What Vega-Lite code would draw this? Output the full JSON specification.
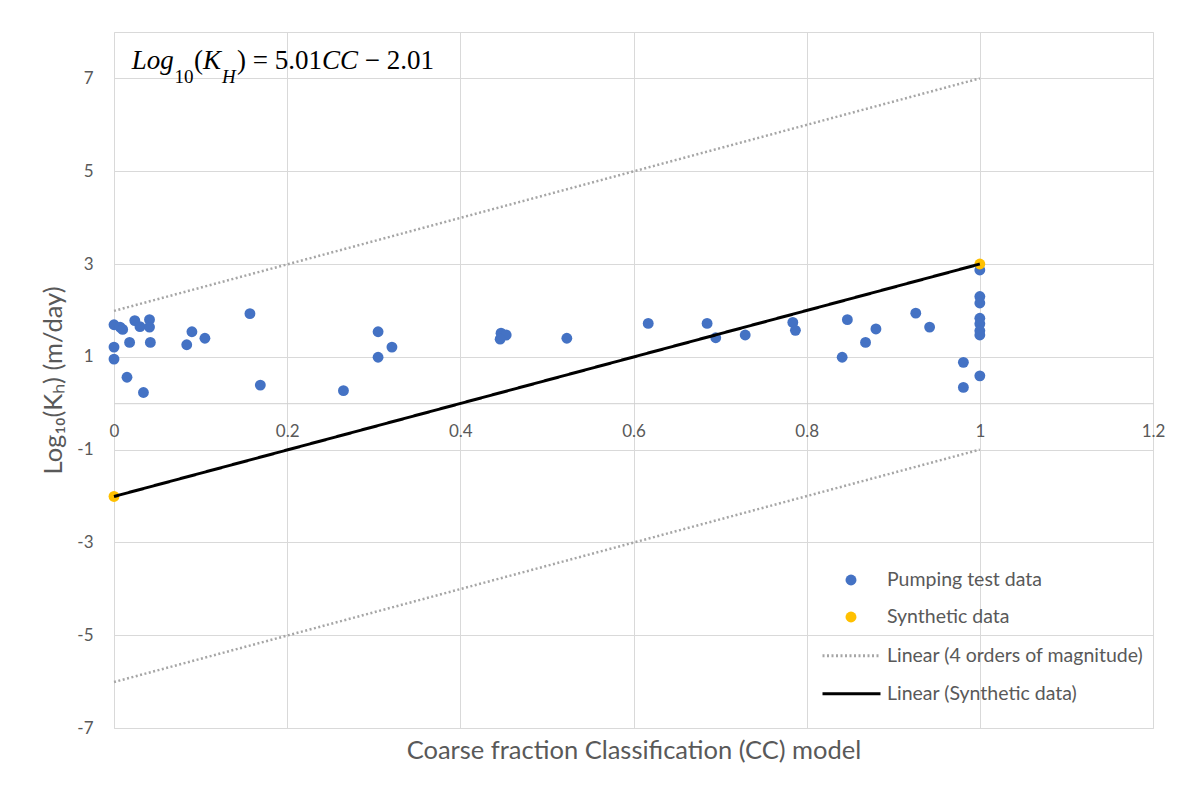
{
  "$schema": "https://vega.github.io/schema/vega-lite/v6.json",
  "width": 1039,
  "height": 696,
  "autosize": {"type": "none"},
  "padding": {"left": 114, "top": 32, "right": 50, "bottom": 61},
  "background": "white",
  "config": {
    "view": {"stroke": "#d9d9d9", "strokeWidth": 1},
    "font": "Lato",
    "axis": {
      "gridColor": "#d9d9d9",
      "gridWidth": 1,
      "ticks": false,
      "tickSize": 0,
      "labelColor": "#595959",
      "titleColor": "#595959",
      "labelFont": "Lato",
      "titleFont": "Lato",
      "labelFontSize": 17,
      "titleFontSize": 25.5,
      "titleFontWeight": "normal",
      "labelFlush": false,
      "labelOverlap": false
    },
    "legend": {"padding": 0, "labelFont": "Lato", "labelFontSize": 19.5, "labelColor": "#595959", "labelLimit": 400, "rowPadding": 0}
  },
  "datasets": {
    "points": [
      {"cc": 0.000, "logk": 1.69, "series": "Pumping test data"},
      {"cc": 0.007, "logk": 1.64, "series": "Pumping test data"},
      {"cc": 0.010, "logk": 1.59, "series": "Pumping test data"},
      {"cc": 0.024, "logk": 1.78, "series": "Pumping test data"},
      {"cc": 0.030, "logk": 1.65, "series": "Pumping test data"},
      {"cc": 0.041, "logk": 1.80, "series": "Pumping test data"},
      {"cc": 0.041, "logk": 1.64, "series": "Pumping test data"},
      {"cc": 0.000, "logk": 1.21, "series": "Pumping test data"},
      {"cc": 0.000, "logk": 0.95, "series": "Pumping test data"},
      {"cc": 0.018, "logk": 1.31, "series": "Pumping test data"},
      {"cc": 0.042, "logk": 1.31, "series": "Pumping test data"},
      {"cc": 0.015, "logk": 0.56, "series": "Pumping test data"},
      {"cc": 0.034, "logk": 0.23, "series": "Pumping test data"},
      {"cc": 0.090, "logk": 1.54, "series": "Pumping test data"},
      {"cc": 0.084, "logk": 1.26, "series": "Pumping test data"},
      {"cc": 0.105, "logk": 1.40, "series": "Pumping test data"},
      {"cc": 0.157, "logk": 1.93, "series": "Pumping test data"},
      {"cc": 0.169, "logk": 0.39, "series": "Pumping test data"},
      {"cc": 0.305, "logk": 1.54, "series": "Pumping test data"},
      {"cc": 0.321, "logk": 1.21, "series": "Pumping test data"},
      {"cc": 0.305, "logk": 0.99, "series": "Pumping test data"},
      {"cc": 0.265, "logk": 0.27, "series": "Pumping test data"},
      {"cc": 0.447, "logk": 1.51, "series": "Pumping test data"},
      {"cc": 0.453, "logk": 1.47, "series": "Pumping test data"},
      {"cc": 0.446, "logk": 1.38, "series": "Pumping test data"},
      {"cc": 0.523, "logk": 1.40, "series": "Pumping test data"},
      {"cc": 0.617, "logk": 1.72, "series": "Pumping test data"},
      {"cc": 0.685, "logk": 1.72, "series": "Pumping test data"},
      {"cc": 0.695, "logk": 1.41, "series": "Pumping test data"},
      {"cc": 0.729, "logk": 1.47, "series": "Pumping test data"},
      {"cc": 0.784, "logk": 1.74, "series": "Pumping test data"},
      {"cc": 0.787, "logk": 1.57, "series": "Pumping test data"},
      {"cc": 0.847, "logk": 1.80, "series": "Pumping test data"},
      {"cc": 0.841, "logk": 0.99, "series": "Pumping test data"},
      {"cc": 0.868, "logk": 1.31, "series": "Pumping test data"},
      {"cc": 0.880, "logk": 1.60, "series": "Pumping test data"},
      {"cc": 0.926, "logk": 1.94, "series": "Pumping test data"},
      {"cc": 0.942, "logk": 1.64, "series": "Pumping test data"},
      {"cc": 0.981, "logk": 0.88, "series": "Pumping test data"},
      {"cc": 0.981, "logk": 0.34, "series": "Pumping test data"},
      {"cc": 1.000, "logk": 0.59, "series": "Pumping test data"},
      {"cc": 1.000, "logk": 2.87, "series": "Pumping test data"},
      {"cc": 1.000, "logk": 2.30, "series": "Pumping test data"},
      {"cc": 1.000, "logk": 2.16, "series": "Pumping test data"},
      {"cc": 1.000, "logk": 1.83, "series": "Pumping test data"},
      {"cc": 1.000, "logk": 1.71, "series": "Pumping test data"},
      {"cc": 1.000, "logk": 1.56, "series": "Pumping test data"},
      {"cc": 1.000, "logk": 1.47, "series": "Pumping test data"},
      {"cc": 0.000, "logk": -2.01, "series": "Synthetic data"},
      {"cc": 1.000, "logk": 3.00, "series": "Synthetic data"}
    ],
    "fits": [
      {"cc": 0, "logk": 1.99, "fit": "Linear (4 orders of magnitude)", "grp": "upper"},
      {"cc": 1, "logk": 7.00, "fit": "Linear (4 orders of magnitude)", "grp": "upper"},
      {"cc": 0, "logk": -6.01, "fit": "Linear (4 orders of magnitude)", "grp": "lower"},
      {"cc": 1, "logk": -1.00, "fit": "Linear (4 orders of magnitude)", "grp": "lower"},
      {"cc": 0, "logk": -2.01, "fit": "Linear (Synthetic data)", "grp": "syn"},
      {"cc": 1, "logk": 3.00, "fit": "Linear (Synthetic data)", "grp": "syn"}
    ]
  },
  "layer": [
    {
      "data": {"name": "points"},
      "mark": {"type": "point", "filled": true, "opacity": 1, "size": 118, "shape": "circle"},
      "encoding": {
        "x": {
          "field": "cc", "type": "quantitative",
          "scale": {"domain": [0, 1.2], "nice": false, "zero": false},
          "axis": {
            "values": [0, 0.2, 0.4, 0.6, 0.8, 1, 1.2],
            "format": "~g",
            "grid": true,
            "offset": -324.8,
            "domain": true,
            "domainColor": "#cfcfcf",
            "domainWidth": 1,
            "labelPadding": 28,
            "labelBaseline": "middle",
            "title": "Coarse fraction Classification (CC) model",
            "titleY": 346.8,
            "titleBaseline": "middle"
          }
        },
        "y": {
          "field": "logk", "type": "quantitative",
          "scale": {"domain": [-7, 8], "nice": false, "zero": false},
          "axis": {
            "values": [-7, -5, -3, -1, 1, 3, 5, 7],
            "format": "d",
            "labelExpr": "replace(datum.label, '\u2212', '-')",
            "grid": true,
            "domain": false,
            "labelPadding": 21,
            "title": "Log\u2081\u2080(K\u2095) (m/day)",
            "titleX": -61,
            "titleY": 348,
            "titleAngle": 270,
            "titleBaseline": "middle",
            "titleAlign": "center"
          }
        },
        "color": {
          "field": "series", "type": "nominal",
          "scale": {"domain": ["Pumping test data", "Synthetic data"], "range": ["#4472C4", "#FFC000"]},
          "legend": {
            "orient": "none", "legendX": 727.25, "legendY": 529.5, "title": null,
            "symbolType": "circle", "symbolSize": 120, "symbolStrokeWidth": 0,
            "clipHeight": 37, "labelOffset": 26.25
          }
        }
      }
    },
    {
      "data": {"name": "fits"},
      "transform": [{"filter": "datum.grp !== 'syn'"}],
      "mark": {"type": "line", "strokeWidth": 2.5, "strokeCap": "butt"},
      "encoding": {
        "x": {"field": "cc", "type": "quantitative"},
        "y": {"field": "logk", "type": "quantitative"},
        "detail": {"field": "grp", "type": "nominal"},
        "stroke": {
          "field": "fit", "type": "nominal",
          "scale": {"domain": ["Linear (4 orders of magnitude)", "Linear (Synthetic data)"], "range": ["#A6A6A6", "#000000"]},
          "legend": {
            "orient": "none", "legendX": 707, "legendY": 605, "title": null,
            "symbolType": "stroke", "symbolSize": 3364, "symbolStrokeWidth": 3,
            "clipHeight": 37.5, "labelOffset": 5
          }
        },
        "strokeDash": {
          "field": "fit", "type": "nominal",
          "scale": {"domain": ["Linear (4 orders of magnitude)", "Linear (Synthetic data)"], "range": [[2, 2.5], [1, 0]]},
          "legend": {
            "orient": "none", "legendX": 707, "legendY": 605, "title": null,
            "symbolType": "stroke", "symbolSize": 3364, "symbolStrokeWidth": 3,
            "clipHeight": 37.5, "labelOffset": 5
          }
        }
      }
    },
    {
      "data": {"name": "fits"},
      "transform": [{"filter": "datum.grp === 'syn'"}],
      "mark": {"type": "line", "strokeWidth": 3},
      "encoding": {
        "x": {"field": "cc", "type": "quantitative"},
        "y": {"field": "logk", "type": "quantitative"},
        "detail": {"field": "grp", "type": "nominal"},
        "stroke": {"field": "fit", "type": "nominal"},
        "strokeDash": {"field": "fit", "type": "nominal"}
      }
    },
    {
      "data": {"values": [{"t": "Log"}]},
      "mark": {"type": "text", "align": "left", "baseline": "alphabetic", "font": "Liberation Serif", "fontSize": 27, "fontStyle": "italic", "color": "#000000"},
      "encoding": {"x": {"datum": 0.0204, "type": "quantitative"}, "y": {"datum": 7.198, "type": "quantitative"}, "text": {"field": "t"}}
    },
    {
      "data": {"values": [{"t": "10"}]},
      "mark": {"type": "text", "align": "left", "baseline": "alphabetic", "font": "Liberation Serif", "fontSize": 19, "color": "#000000"},
      "encoding": {"x": {"datum": 0.0699, "type": "quantitative"}, "y": {"datum": 6.909, "type": "quantitative"}, "text": {"field": "t"}}
    },
    {
      "data": {"values": [{"t": "("}]},
      "mark": {"type": "text", "align": "left", "baseline": "alphabetic", "font": "Liberation Serif", "fontSize": 27, "color": "#000000"},
      "encoding": {"x": {"datum": 0.0924, "type": "quantitative"}, "y": {"datum": 7.198, "type": "quantitative"}, "text": {"field": "t"}}
    },
    {
      "data": {"values": [{"t": "K"}]},
      "mark": {"type": "text", "align": "left", "baseline": "alphabetic", "font": "Liberation Serif", "fontSize": 27, "fontStyle": "italic", "color": "#000000"},
      "encoding": {"x": {"datum": 0.1028, "type": "quantitative"}, "y": {"datum": 7.198, "type": "quantitative"}, "text": {"field": "t"}}
    },
    {
      "data": {"values": [{"t": "H"}]},
      "mark": {"type": "text", "align": "left", "baseline": "alphabetic", "font": "Liberation Serif", "fontSize": 19, "fontStyle": "italic", "color": "#000000"},
      "encoding": {"x": {"datum": 0.1247, "type": "quantitative"}, "y": {"datum": 6.909, "type": "quantitative"}, "text": {"field": "t"}}
    },
    {
      "data": {"values": [{"t": ") = 5.01"}]},
      "mark": {"type": "text", "align": "left", "baseline": "alphabetic", "font": "Liberation Serif", "fontSize": 27, "color": "#000000"},
      "encoding": {"x": {"datum": 0.1421, "type": "quantitative"}, "y": {"datum": 7.198, "type": "quantitative"}, "text": {"field": "t"}}
    },
    {
      "data": {"values": [{"t": "CC"}]},
      "mark": {"type": "text", "align": "left", "baseline": "alphabetic", "font": "Liberation Serif", "fontSize": 27, "fontStyle": "italic", "color": "#000000"},
      "encoding": {"x": {"datum": 0.2402, "type": "quantitative"}, "y": {"datum": 7.198, "type": "quantitative"}, "text": {"field": "t"}}
    },
    {
      "data": {"values": [{"t": "\u2212 2.01"}]},
      "mark": {"type": "text", "align": "left", "baseline": "alphabetic", "font": "Liberation Serif", "fontSize": 27, "color": "#000000"},
      "encoding": {"x": {"datum": 0.2896, "type": "quantitative"}, "y": {"datum": 7.198, "type": "quantitative"}, "text": {"field": "t"}}
    }
  ]
}
